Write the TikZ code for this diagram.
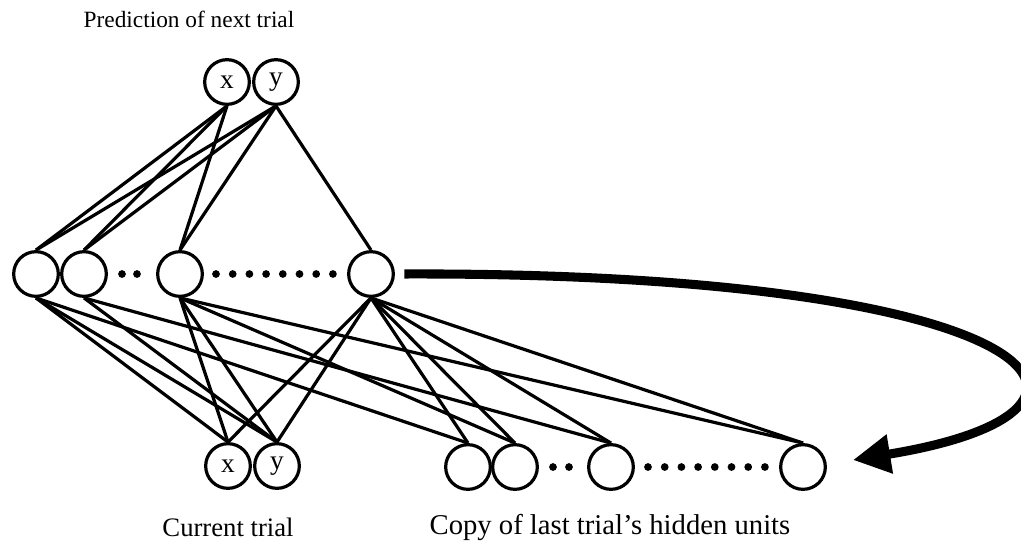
\documentclass[tikz,border=0pt]{standalone}
\usepackage{fontspec}
\setmainfont{Liberation Serif}
\usetikzlibrary{arrows.meta}

\begin{document}
\begin{tikzpicture}[x=0.75pt, y=-0.75pt, line width=2.4pt]

  \tikzstyle{U}=[circle,draw,line width=2.4pt,minimum size=33.5pt,inner sep=0pt,font=\fontsize{20.5}{24}\selectfont]
  \tikzstyle{L}=[font=\fontsize{20}{24}\selectfont]
  \tikzstyle{R}=[line width=6.8pt,shorten <=7pt,-{Triangle[length=28pt,width=28pt]}]

  \useasboundingbox (0,0) rectangle (1021,554);

  \node[L, font=\fontsize{17.5}{21}\selectfont] at (189,19) (predlabel) {Prediction of next trial};
  \node[U] at (227,82) (xout) {x};
  \node[U] at (276,82) (yout) {y};

  \node[U] at (36,274) (h1) {};
  \node[U] at (84,274) (h2) {};
  \node[U] at (180,274) (h3) {};
  \node[U] at (371,274) (h4) {};

  \node[U] at (228,466) (xin) {x};
  \node[U] at (277,466) (yin) {y};
  \node[U] at (468,467) (c1) {};
  \node[U] at (515,467) (c2) {};
  \node[U] at (611,467) (c3) {};
  \node[U] at (803,467) (c4) {};

  \node[L] at (228,527) (curlabel) {Current trial};
  \node[L, font=\fontsize{21.5}{26}\selectfont] at (610,527) (copylabel) {Copy of last trial's hidden units};

  % dots
  \fill (122,274) circle (2.9pt);
  \fill (137,274) circle (2.9pt);
  \foreach \i in {0,...,7} \fill ({216+16.7*\i},274) circle (2.9pt);
  \fill (553,467) circle (2.9pt);
  \fill (569,467) circle (2.9pt);
  \foreach \i in {0,...,7} \fill ({648+16.7*\i},467) circle (2.9pt);

  \draw (xout.south) to (h1.north);
  \draw (xout.south) to (h2.north);
  \draw (xout.south) to (h3.north);
  \draw (yout.south) to (h1.north);
  \draw (yout.south) to (h2.north);
  \draw (yout.south) to (h3.north);
  \draw (yout.south) to (h4.north);

  \draw (h1.south) to (xin.north);
  \draw (h1.south) to (yin.north);
  \draw (h1.south) to (c1.north);
  \draw (h2.south) to (yin.north);
  \draw (h2.south) to (c3.north);
  \draw (h3.south) to (xin.north);
  \draw (h3.south) to (yin.north);
  \draw (h3.south) to (c2.north);
  \draw (h3.south) to (c4.north);
  \draw (h4.south) to (xin.north);
  \draw (h4.south) to (yin.north);
  \draw (h4.south) to (c1.north);
  \draw (h4.south) to (c2.north);
  \draw (h4.south) to (c3.north);
  \draw (h4.south) to (c4.north);

  % copy back
  \coordinate (tip) at (853,460);
  \draw[R] (h4.east) .. controls (1050,272) and (1160,410) .. (tip);

\end{tikzpicture}
\end{document}
